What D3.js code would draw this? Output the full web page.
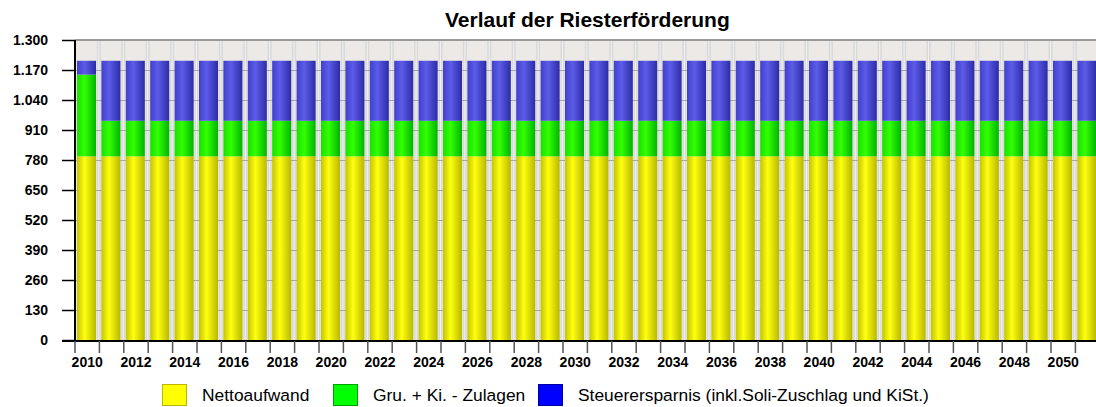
<!DOCTYPE html>
<html>
<head>
<meta charset="utf-8">
<script src="https://d3js.org/d3.v7.min.js"></script>
<style>
  body { margin: 0; background: #fff; }
  svg { font-family: "Liberation Sans", Arial, sans-serif; }
</style>
</head>
<body>
<svg width="1096" height="407"></svg>
<script>
// data
const years = d3.range(2010, 2052);
const nettoaufwand = years.map(function(y) { return 796; });
const zulagen = years.map(function(y) { return y == 2010 ? 354 : 154; });
const steuer = years.map(function(y) { return y == 2010 ? 60 : 260; });
const seriesNames = ["Nettoaufwand", "Gru. + Ki. - Zulagen", "Steuerersparnis (inkl.Soli-Zuschlag und KiSt.)"];
const yTicks = d3.range(0, 1301, 130);

const svg = d3.select("svg");
const mg_left = 75, mg_top = 40, h = 300;

const xs = d3.scaleBand()
    .domain(years)
    .range([mg_left, mg_left + 42 * 24.4]);
const ys = d3.scaleLinear()
    .domain([0, 1300])
    .range([mg_top + h, mg_top]);

// gradients for the bars
const colors = [
    ["#c4c400", "#ffff10", "#b8b800"],
    ["#18e000", "#33ff00", "#00b400"],
    ["#4040cc", "#5c5ce8", "#2c2ca8"]
];
const defs = svg.append("defs");
colors.forEach(function(c, i) {
    const g = defs.append("linearGradient").attr("id", "grad" + i)
        .attr("x1", "0%").attr("x2", "100%").attr("y1", "0%").attr("y2", "0%");
    g.append("stop").attr("offset", "0%").attr("stop-color", c[0]);
    g.append("stop").attr("offset", "40%").attr("stop-color", c[1]);
    g.append("stop").attr("offset", "100%").attr("stop-color", c[2]);
});

// plot background
svg.append("rect")
    .attr("x", mg_left).attr("y", mg_top)
    .attr("width", xs.range()[1] - mg_left).attr("height", h)
    .attr("fill", "#ece9e6");

// vertical grid
const vgrid = svg.append("g");
vgrid.selectAll("rect")
    .data(years.slice(1))
    .enter().append("rect")
    .attr("x", function(d) { return xs(d) - 2.5; })
    .attr("y", mg_top)
    .attr("width", 4)
    .attr("height", h)
    .attr("fill", "#d9d9d9");
vgrid.selectAll("line")
    .data(years.slice(1))
    .enter().append("line")
    .attr("x1", function(d) { return xs(d) - 0.5; })
    .attr("x2", function(d) { return xs(d) - 0.5; })
    .attr("y1", mg_top).attr("y2", mg_top + h)
    .attr("stroke", "#f2f2f2").attr("stroke-width", 1);

// horizontal grid
svg.append("g")
    .selectAll("line")
    .data(yTicks.slice(1, -1))
    .enter().append("line")
    .attr("x1", mg_left).attr("x2", xs.range()[1])
    .attr("y1", function(d) { return Math.round(ys(d)) + 0.5; })
    .attr("y2", function(d) { return Math.round(ys(d)) + 0.5; })
    .attr("stroke", "#a8a8a8").attr("stroke-width", 1);

// top border
svg.append("line")
    .attr("x1", mg_left).attr("x2", xs.range()[1])
    .attr("y1", mg_top).attr("y2", mg_top)
    .attr("stroke", "#999").attr("stroke-width", 2);

// stacked bars
const table = years.map(function(y, i) {
    return { year: y, a: nettoaufwand[i], b: zulagen[i], c: steuer[i] };
});
const stack = d3.stack().keys(["a", "b", "c"])(table);
svg.append("g")
    .selectAll("g")
    .data(stack)
    .enter().append("g")
    .attr("fill", function(d, i) { return "url(#grad" + i + ")"; })
    .selectAll("rect")
    .data(function(d) { return d; })
    .enter().append("rect")
    .attr("x", function(d) { return xs(d.data.year) + 2; })
    .attr("y", function(d) { return ys(d[1]); })
    .attr("width", xs.bandwidth() * 0.78)
    .attr("height", function(d) { return ys(d[0]) - ys(d[1]); });

// y axis
const yAxis = svg.append("g")
    .attr("transform", "translate(" + mg_left + ",0)")
    .call(d3.axisLeft(ys).tickValues(yTicks).tickSize(13).tickPadding(14)
        .tickFormat(function(d) { return d3.format(",")(d).replace(/,/g, "."); }));
yAxis.select(".domain").attr("stroke", "#000").attr("stroke-width", 2).attr("d", "M0," + (mg_top) + "V" + (mg_top + h + 1));
yAxis.selectAll("text").style("font-size", "14px").style("font-weight", "bold").attr("fill", "#000");
yAxis.selectAll(".tick line").attr("stroke", "#000").attr("stroke-width", 1.5);

// x axis
const xg = svg.append("g");
xg.append("line")
    .attr("x1", mg_left - 13).attr("x2", xs.range()[1])
    .attr("y1", ys(0) + 1).attr("y2", ys(0) + 1)
    .attr("stroke", "#000").attr("stroke-width", 2);
xg.selectAll(".xt")
    .data(years)
    .enter().append("line")
    .attr("x1", function(d) { return xs(d); })
    .attr("x2", function(d) { return xs(d); })
    .attr("y1", ys(0) + 1).attr("y2", ys(0) + 13)
    .attr("stroke", "#555").attr("stroke-width", 1.5);
xg.selectAll("text")
    .data(years.filter(function(y) { return y % 2 == 0; }))
    .enter().append("text")
    .attr("x", function(d) { return xs(d) + xs.bandwidth() / 2; })
    .attr("y", ys(0) + 27)
    .attr("text-anchor", "middle")
    .style("font-size", "14px")
    .style("font-weight", "bold")
    .text(function(d) { return d; });

// title
svg.append("text")
    .attr("x", (mg_left + xs.range()[1]) / 2)
    .attr("y", 27)
    .attr("text-anchor", "middle")
    .style("font-size", "21px")
    .style("font-weight", "bold")
    .text("Verlauf der Riesterförderung");

// legend
const legendX = [162, 333, 538];
const legendFill = ["#ffff00", "#00ff00", "#0000ff"];
const legendStroke = ["#b8b800", "#00a000", "#0000a0"];
const lg = svg.append("g");
lg.selectAll("rect")
    .data(seriesNames)
    .enter().append("rect")
    .attr("x", function(d, i) { return legendX[i] + 0.5; })
    .attr("y", 384.5)
    .attr("width", 24).attr("height", 21)
    .attr("fill", function(d, i) { return legendFill[i]; })
    .attr("stroke", function(d, i) { return legendStroke[i]; });
lg.selectAll("text")
    .data(seriesNames)
    .enter().append("text")
    .attr("x", function(d, i) { return legendX[i] + 40; })
    .attr("y", 401)
    .style("font-size", "17.4px")
    .text(function(d) { return d; });
</script>
</body>
</html>
